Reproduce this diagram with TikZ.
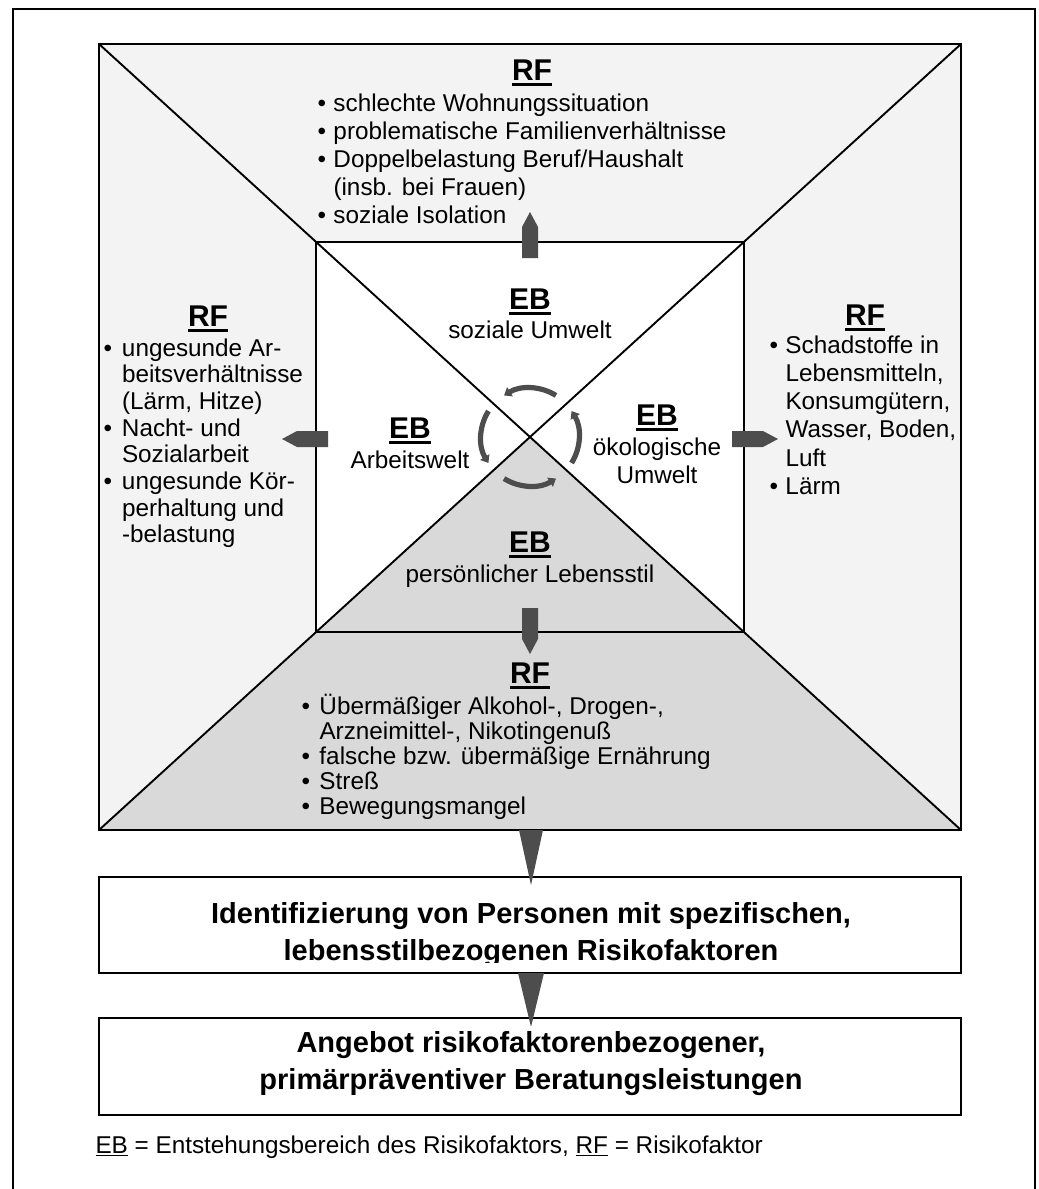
\documentclass[tikz,border=0pt]{standalone}
\usepackage{fontspec}
\setmainfont{Liberation Sans}
\usetikzlibrary{calc,arrows.meta}

\definecolor{panelgray}{HTML}{F3F3F3}
\definecolor{stylegray}{HTML}{D9D9D9}
\definecolor{arrowgray}{HTML}{4D4D4D}

% underlined abbreviations
\newsavebox\ulbox
\newcommand\ulbold[1]{\sbox\ulbox{#1}\rlap{\rule[-5.6pt]{\wd\ulbox}{2.9pt}}\usebox\ulbox}
\newcommand\ulthin[1]{\sbox\ulbox{#1}\rlap{\rule[-3.4pt]{\wd\ulbox}{1.8pt}}\usebox\ulbox}
% bullet lists
\newcommand\bul[1]{\makebox[#1][l]{•}}
\newcommand\cont[1]{\hspace*{#1}}
\newcommand\listsetup[1]{\fontsize{24.3}{#1}\selectfont\lineskiplimit=-100pt\relax\raggedright}

\begin{document}
\begin{tikzpicture}[x=1pt,y=-1pt,
  every node/.style={inner sep=0pt,outer sep=0pt},
  head/.style={anchor=base,font=\fontsize{30}{36}\selectfont\bfseries},
  sub/.style={anchor=base,font=\fontsize{24.3}{29}\selectfont},
  list/.style={anchor=base west},
  boxtext/.style={anchor=base,font=\fontsize{29}{37}\selectfont\bfseries},
  box/.style={draw,line width=2.4pt,fill=white,minimum width=862pt,minimum height=96pt},
  frameline/.style={line width=2.6pt},
  bigline/.style={line width=2.8pt},
  innerline/.style={line width=2.2pt},
  diag/.style={line width=1.9pt},
  cyc/.style={draw=arrowgray,line width=5.2pt,-{Triangle[length=7pt,width=10.5pt]}},
  wedge/.style={fill=arrowgray},
  blockarrow/.pic={\fill[arrowgray] (0,-8) -- (31,-8) -- (46,0) -- (31,8) -- (0,8) -- cycle;}
]
\useasboundingbox (0,0) rectangle (1039,1189);

% outer frame (open at the bottom edge of the page)
\coordinate (FBL) at (13,1189);
\coordinate (FTL) at (13,9);
\coordinate (FTR) at (1035,9);
\coordinate (FBR) at (1035,1189);
\draw[frameline] (FBL) -- (FTL) -- (FTR) -- (FBR);

% large panel and its centre
\coordinate (BTL) at (99,44);
\coordinate (BTR) at (961,44);
\coordinate (BBR) at (961,830);
\coordinate (BBL) at (99,830);
\coordinate (C) at ($(BTL)!0.5!(BBR)$);
% inner rectangle, corners on the diagonals
\coordinate (ITL) at ($(BTL)!0.252!(BBR)$);
\coordinate (IBR) at ($(BTL)!0.748!(BBR)$);
\coordinate (ITR) at ($(BTR)!0.252!(BBL)$);
\coordinate (IBL) at ($(BTR)!0.748!(BBL)$);

\fill[panelgray] (BTL) rectangle (BBR);
\fill[stylegray] (C) -- (BBL) -- (BBR) -- cycle;
\fill[white] (IBL) -- (ITL) -- (ITR) -- (IBR) -- (C) -- cycle;
\draw[diag] (BTL) -- (BBR);
\draw[diag] (BTR) -- (BBL);
\draw[innerline] (ITL) rectangle (IBR);
\draw[bigline] (BTL) rectangle (BBR);

% block arrows from the inner fields to the outer fields
\pic[rotate=90] (arrUp) at (530,258) {blockarrow};
\pic[rotate=180] (arrLeft) at (328,439) {blockarrow};
\pic (arrRight) at (732,439) {blockarrow};
\pic[rotate=-90] (arrDown) at (530,608) {blockarrow};

% circulating arrows round the centre
\foreach \a in {0,90,180,270}{
  \draw[cyc] ($(C)+({-(\a-32)}:49)$) arc[start angle={-(\a-32)}, end angle={-(\a+32)}, radius=49];
}

% inner labels
\node[head] (ebTop) at (530,309) {\ulbold{EB}};
\node[sub] (ebTopSub) at (530,338) {soziale Umwelt};
\node[head] (ebLeft) at (410,438) {\ulbold{EB}};
\node[sub] (ebLeftSub) at (410,468) {Arbeitswelt};
\node[head] (ebRight) at (657,425) {\ulbold{EB}};
\node[sub] (ebRightSub) at (657,455) {ökologische};
\node[sub] (ebRightSub2) at (657,483) {Umwelt};
\node[head] (ebBottom) at (530,552) {\ulbold{EB}};
\node[sub] (ebBottomSub) at (530,582) {persönlicher Lebensstil};

% outer labels and lists
\node[head] (rfTop) at (532,80) {\ulbold{RF}};
\node[list] (rfTopList) at (317.5,111) {\parbox[t]{460pt}{\listsetup{28}%
  \bul{16pt}schlechte Wohnungssituation\\
  \bul{16pt}problematische Familienverhältnisse\\
  \bul{16pt}Doppelbelastung Beruf/Haushalt\\
  \cont{16pt}(insb. bei Frauen)\\
  \bul{16pt}soziale Isolation}};

\node[head] (rfLeft) at (208,326) {\ulbold{RF}};
\node[list] (rfLeftList) at (103.5,356) {\parbox[t]{210pt}{\listsetup{26.7}%
  \bul{18.5pt}ungesunde Ar-\\
  \cont{18.5pt}beitsverhältnisse\\
  \cont{18.5pt}(Lärm, Hitze)\\
  \bul{18.5pt}Nacht- und\\
  \cont{18.5pt}Sozialarbeit\\
  \bul{18.5pt}ungesunde Kör-\\
  \cont{18.5pt}perhaltung und\\
  \cont{18.5pt}-belastung}};

\node[head] (rfRight) at (865,325) {\ulbold{RF}};
\node[list] (rfRightList) at (769.5,353) {\parbox[t]{200pt}{\listsetup{28.3}%
  \bul{16pt}Schadstoffe in\\
  \cont{16pt}Lebensmitteln,\\
  \cont{16pt}Konsumgütern,\\
  \cont{16pt}Wasser, Boden,\\
  \cont{16pt}Luft\\
  \bul{16pt}Lärm}};

\node[head] (rfBottom) at (530,683) {\ulbold{RF}};
\node[list] (rfBottomList) at (301.5,714) {\parbox[t]{440pt}{\listsetup{25}%
  \bul{18pt}Übermäßiger Alkohol-, Drogen-,\\
  \cont{18pt}Arzneimittel-, Nikotingenuß\\
  \bul{18pt}falsche bzw. übermäßige Ernährung\\
  \bul{18pt}Streß\\
  \bul{18pt}Bewegungsmangel}};

% consequence boxes
\node[box] (idbox) at (530,925) {};
\node[box,minimum height=97pt] (offerbox) at (530,1066.5) {};

\coordinate (bigS) at (531,830);
\fill[wedge] ($(bigS)+(-12,0)$) -- ($(bigS)+(12,0)$) -- ($(idbox.north)+(1,8)$) -- cycle;
\fill[wedge] ($(idbox.south)+(-12,0)$) -- ($(idbox.south)+(14,0)$) -- ($(offerbox.north)+(1,9)$) -- cycle;

\begin{scope}
  \clip (99,870) rectangle (961,962);
  \node[boxtext] (idtext) at (531,923) {\parbox[t]{860pt}{\centering
    Identifizierung von Personen mit spezifischen,\\
    lebensstilbezogenen Risikofaktoren}};
\end{scope}
\node[boxtext] (offertext) at (531,1052) {\parbox[t]{860pt}{\centering
  Angebot risikofaktorenbezogener,\\
  primärpräventiver Beratungsleistungen}};

% key
\node[anchor=base west,font=\fontsize{24.3}{29}\selectfont] (legend) at (95.5,1153)
  {\ulthin{EB} = Entstehungsbereich des Risikofaktors, \ulthin{RF} = Risikofaktor};
\end{tikzpicture}
\end{document}
